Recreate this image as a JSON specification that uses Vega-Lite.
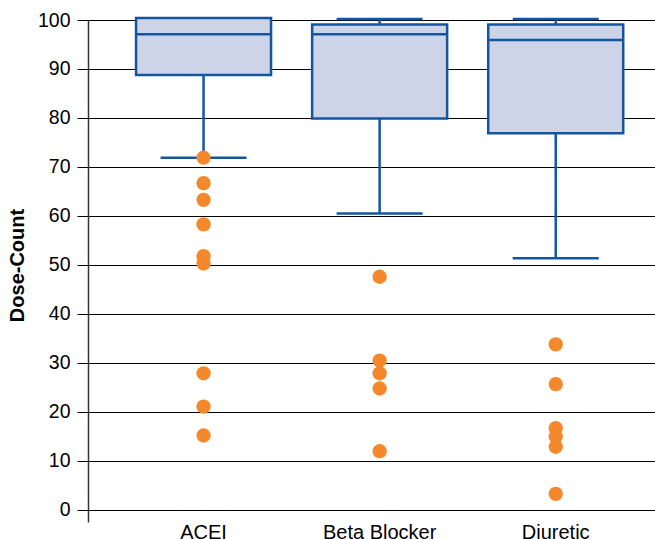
{
  "$schema": "https://vega.github.io/schema/vega-lite/v6.json",
  "width": 567,
  "height": 502,
  "autosize": {"type": "none"},
  "padding": {"left": 88, "top": 20, "right": 0, "bottom": 17},
  "background": "white",
  "datasets": {
    "boxes": [
      {"drug": "ACEI", "lower": 71.9, "q1": 88.8, "median": 97.1, "q3": 100.4, "upper": 100.4},
      {"drug": "Beta Blocker", "lower": 60.5, "q1": 79.9, "median": 97.1, "q3": 99.1, "upper": 100.2},
      {"drug": "Diuretic", "lower": 51.4, "q1": 76.9, "median": 95.9, "q3": 99.1, "upper": 100.2}
    ],
    "outliers": [
      {"drug": "ACEI", "value": 71.9},
      {"drug": "ACEI", "value": 66.7},
      {"drug": "ACEI", "value": 63.3},
      {"drug": "ACEI", "value": 58.3},
      {"drug": "ACEI", "value": 51.8},
      {"drug": "ACEI", "value": 50.3},
      {"drug": "ACEI", "value": 27.9},
      {"drug": "ACEI", "value": 21.1},
      {"drug": "ACEI", "value": 15.2},
      {"drug": "Beta Blocker", "value": 47.6},
      {"drug": "Beta Blocker", "value": 30.5},
      {"drug": "Beta Blocker", "value": 27.9},
      {"drug": "Beta Blocker", "value": 24.8},
      {"drug": "Beta Blocker", "value": 12.0},
      {"drug": "Diuretic", "value": 33.8},
      {"drug": "Diuretic", "value": 25.7},
      {"drug": "Diuretic", "value": 16.7},
      {"drug": "Diuretic", "value": 15.0},
      {"drug": "Diuretic", "value": 12.9},
      {"drug": "Diuretic", "value": 3.3}
    ]
  },
  "config": {
    "view": {"stroke": null},
    "font": "Liberation Sans"
  },
  "encoding": {
    "x": {
      "field": "drug",
      "type": "nominal",
      "sort": ["ACEI", "Beta Blocker", "Diuretic"],
      "scale": {"paddingInner": 0, "paddingOuter": 0.11, "align": 0.71},
      "axis": {
        "title": null,
        "labelAngle": 0,
        "domain": false,
        "ticks": false,
        "labelFontSize": 20,
        "labelColor": "black",
        "labelPadding": 0,
        "labelFont": "Liberation Sans"
      }
    }
  },
  "layer": [
    {
      "data": {"values": [{"v": 0}]},
      "mark": {"type": "rule", "opacity": 0},
      "encoding": {
        "x": null,
        "y": {
          "field": "v",
          "type": "quantitative",
          "scale": {"domain": [-2.45, 100], "nice": false, "zero": false},
          "axis": {
            "title": "Dose-Count",
            "titleFontSize": 20,
            "titleFontWeight": "bold",
            "titleColor": "black",
            "titlePadding": 10,
            "titleY": 245,
            "values": [0, 10, 20, 30, 40, 50, 60, 70, 80, 90, 100],
            "grid": true,
            "gridColor": "black",
            "gridWidth": 1,
            "gridOpacity": 1,
            "tickSize": 11,
            "tickColor": "black",
            "tickWidth": 1,
            "domainColor": "#333333",
            "domainWidth": 1.5,
            "labelFontSize": 19.5,
            "labelColor": "black",
            "labelPadding": 7
          }
        }
      }
    },
    {
      "data": {"name": "boxes"},
      "mark": {"type": "rule", "color": "#1256a0", "strokeWidth": 2.5},
      "encoding": {
        "y": {"field": "lower", "type": "quantitative"},
        "y2": {"field": "upper"}
      }
    },
    {
      "data": {"name": "boxes"},
      "mark": {"type": "bar", "size": 135, "fill": "#cdd4e8", "stroke": "#1256a0", "strokeWidth": 2.5},
      "encoding": {
        "y": {"field": "q1", "type": "quantitative"},
        "y2": {"field": "q3"}
      }
    },
    {
      "data": {"name": "boxes"},
      "mark": {"type": "tick", "size": 135, "thickness": 2.5, "color": "#1256a0", "opacity": 1},
      "encoding": {
        "y": {"field": "median", "type": "quantitative"}
      }
    },
    {
      "data": {"name": "boxes"},
      "mark": {"type": "tick", "size": 86, "thickness": 2.5, "color": "#1256a0", "opacity": 1},
      "encoding": {
        "y": {"field": "lower", "type": "quantitative"}
      }
    },
    {
      "data": {"name": "boxes"},
      "transform": [{"filter": "datum.upper > datum.q3"}],
      "mark": {"type": "tick", "size": 86, "thickness": 2.5, "color": "#1256a0", "opacity": 1},
      "encoding": {
        "y": {"field": "upper", "type": "quantitative"}
      }
    },
    {
      "data": {"name": "outliers"},
      "mark": {"type": "circle", "size": 205, "color": "#f5882a", "opacity": 1},
      "encoding": {
        "y": {"field": "value", "type": "quantitative"}
      }
    }
  ]
}
